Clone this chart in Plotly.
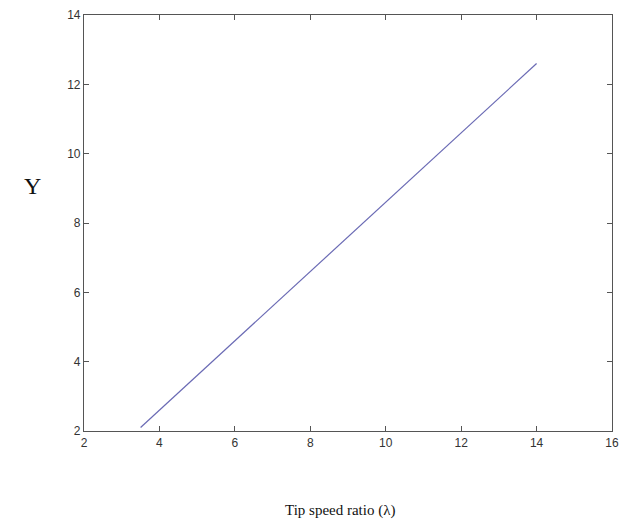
import plotly.graph_objects as go

# Data
tsr = [3.5, 6.0, 8.0, 10.0, 12.0, 14.0]
upsilon = [2.1, 4.6, 6.6, 8.6, 10.6, 12.6]

x_ticks = [2, 4, 6, 8, 10, 12, 14, 16]
y_ticks = [2, 4, 6, 8, 10, 12, 14]

fig = go.Figure()
fig.add_trace(go.Scatter(x=tsr, y=upsilon, mode="lines",
                         line=dict(color="#6a6ab4", width=1.2),
                         showlegend=False, hoverinfo="skip"))

axis_common = dict(showline=True, linecolor="#555555", linewidth=1.2, mirror="ticks",
                   ticks="inside", ticklen=5, tickcolor="#555555", tickwidth=1,
                   showgrid=False, zeroline=False, automargin=False,
                   tickfont=dict(family="Liberation Sans, Arial, sans-serif", size=12, color="#333333"))

fig.update_xaxes(range=[2, 16], tickvals=x_ticks, ticktext=[str(v) for v in x_ticks], **axis_common)
fig.update_yaxes(range=[2, 14], tickvals=y_ticks, ticktext=[str(v) for v in y_ticks], **axis_common)

fig.add_annotation(text="Tip speed ratio (λ)", xref="paper", yref="paper",
                   x=0.485, y=-0.19, xanchor="center", yanchor="middle", showarrow=False,
                   font=dict(family="Liberation Serif, Times New Roman, serif", size=15, color="#111111"))
fig.add_annotation(text="Υ", xref="paper", yref="paper",
                   x=-0.098, y=0.59, xanchor="center", yanchor="middle", showarrow=False,
                   font=dict(family="Liberation Serif, Times New Roman, serif", size=24, color="#111111"))

fig.update_layout(width=620, height=523, margin=dict(l=84, r=8, t=15, b=92),
                  plot_bgcolor="white", paper_bgcolor="white")

fig.write_html("out.html")
